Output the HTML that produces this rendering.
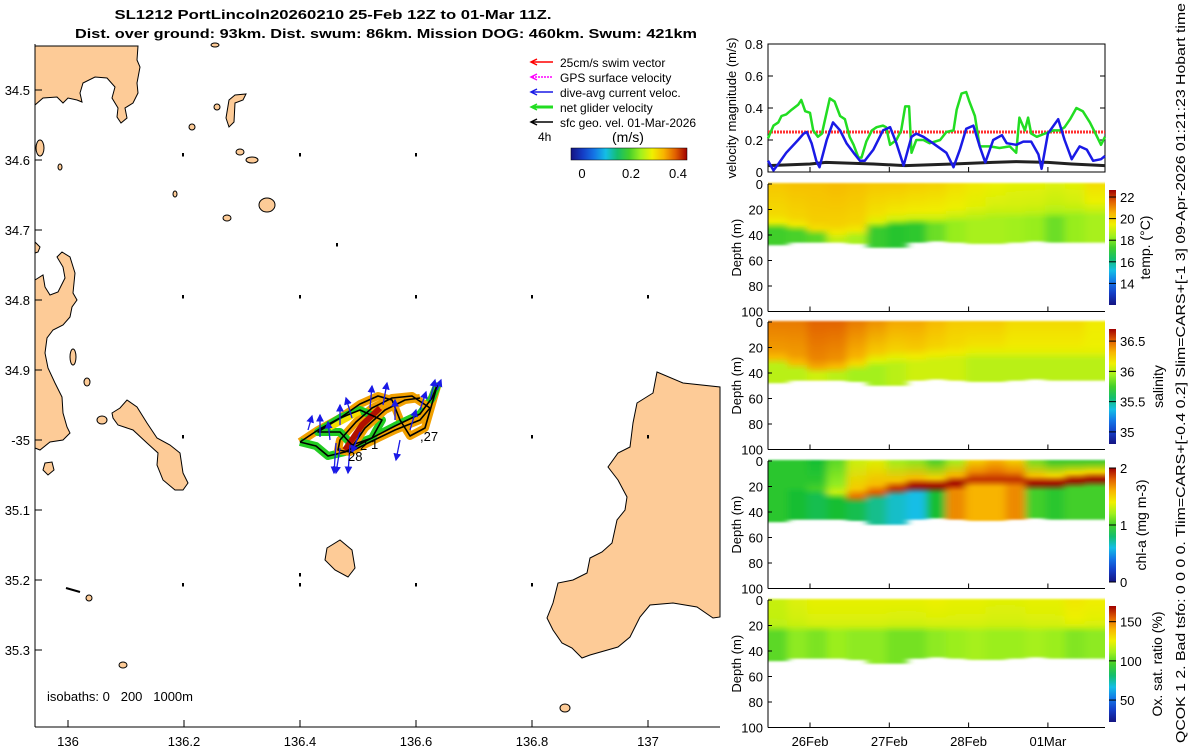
<!DOCTYPE html>
<html><head><meta charset="utf-8">
<style>
html,body{margin:0;padding:0;background:#fff;}
svg{display:block;font-family:"Liberation Sans",sans-serif;}
</style></head>
<body>
<svg id="fig" width="1200" height="750" viewBox="0 0 1200 750" xmlns="http://www.w3.org/2000/svg">
<text x="333" y="19" text-anchor="middle" font-size="13" font-weight="bold" textLength="437" lengthAdjust="spacingAndGlyphs">SL1212 PortLincoln20260210 25-Feb 12Z to 01-Mar 11Z.</text>
<text x="386" y="38" text-anchor="middle" font-size="13" font-weight="bold" textLength="622" lengthAdjust="spacingAndGlyphs">Dist. over ground: 93km. Dist. swum: 86km. Mission DOG: 460km. Swum: 421km</text>
<g id="map"></g>
<g id="vel"></g>
<g id="sections"></g>
<text transform="translate(1185,373) rotate(-90)" text-anchor="middle" font-size="13" textLength="740" lengthAdjust="spacingAndGlyphs">QCOK 1  2. Bad tsfo: 0  0  0  0. Tlim=CARS+[-0.4 0.2] Slim=CARS+[-1 3] 09-Apr-2026 01:21:23 Hobart time</text>
</svg>
<script>
// ---------- velocity data (time in days since 25-Feb 00:00) ----------
const greenT=[0.47,0.54,0.60,0.64,0.70,0.77,0.85,0.89,0.94,1.00,1.04,1.10,1.15,1.25,1.31,1.38,1.44,1.50,1.55,1.61,1.65,1.71,1.78,1.84,1.92,1.96,2.01,2.09,2.15,2.20,2.25,2.28,2.34,2.43,2.51,2.64,2.72,2.81,2.85,2.91,2.97,3.01,3.08,3.14,3.27,3.39,3.52,3.60,3.64,3.71,3.75,3.79,3.86,3.96,4.07,4.15,4.21,4.28,4.36,4.44,4.53,4.61,4.67,4.72];
const greenV=[0.21,0.29,0.31,0.35,0.36,0.39,0.42,0.45,0.38,0.37,0.26,0.22,0.24,0.46,0.44,0.35,0.33,0.22,0.17,0.09,0.09,0.19,0.26,0.28,0.29,0.28,0.17,0.20,0.26,0.41,0.41,0.12,0.20,0.20,0.18,0.20,0.25,0.26,0.39,0.49,0.50,0.44,0.35,0.16,0.16,0.15,0.16,0.12,0.34,0.26,0.34,0.24,0.22,0.24,0.26,0.26,0.28,0.33,0.40,0.38,0.31,0.23,0.17,0.22];
const blueT=[0.47,0.54,0.60,0.70,0.85,0.92,0.96,1.02,1.08,1.12,1.21,1.29,1.38,1.46,1.55,1.63,1.69,1.80,1.92,2.01,2.09,2.18,2.28,2.34,2.43,2.55,2.72,2.81,2.89,2.97,3.06,3.14,3.21,3.31,3.42,3.48,3.60,3.69,3.79,3.88,3.92,4.00,4.13,4.21,4.30,4.40,4.49,4.57,4.67,4.72];
const blueV=[0.07,0.01,0.05,0.12,0.20,0.24,0.25,0.18,0.07,0.03,0.20,0.31,0.26,0.18,0.12,0.07,0.07,0.14,0.26,0.28,0.18,0.04,0.22,0.24,0.22,0.18,0.12,0.03,0.14,0.27,0.29,0.16,0.06,0.20,0.23,0.18,0.17,0.19,0.19,0.11,0.02,0.24,0.33,0.20,0.08,0.16,0.14,0.07,0.08,0.10];
const blackT=[0.47,1.0,1.2,1.8,2.2,2.8,3.3,3.6,4.0,4.3,4.72];
const blackV=[0.04,0.05,0.06,0.05,0.04,0.05,0.06,0.065,0.06,0.05,0.04];
const swimSpeed=0.25;
const velTicks=[0,0.2,0.4,0.6,0.8];
const dateTicks=[1,2,3,4];
const dateLabels=["26Feb","27Feb","28Feb","01Mar"];
// ---------- section data (17 bins of 0.25 day from t=0.47) ----------
const binStart=0.47, binWidth=0.25;
const bottomDepth=[48,46,46,46,47,50,50,46,45,46,47,47,46,45,46,46,46];
const tempSurf=[20.2,20.3,20.3,20.4,20.3,20.2,20.2,20.1,20.0,19.8,19.6,19.4,19.3,19.3,19.2,19.3,19.8];
const tempMld=[30,32,35,38,36,30,28,27,27,25,24,22,22,22,22,20,20];
const tempMid=[19.5,19.6,19.8,19.6,19.6,19.2,19.0,19.0,19.0,19.0,18.9,18.9,18.9,18.8,18.6,18.8,19.0];
const tempDeep=[17.3,17.4,17.6,18.8,18.5,17.2,17.0,17.1,17.8,18.3,18.5,18.5,18.4,18.3,17.8,18.3,18.5];
const salSurf=[36.45,36.45,36.5,36.5,36.45,36.4,36.35,36.35,36.3,36.25,36.25,36.25,36.2,36.2,36.2,36.2,36.15];
const salMld=[28,32,35,35,33,30,28,27,25,24,24,24,24,24,24,24,24];
const salMid=[36.3,36.3,36.35,36.3,36.2,36.1,36.1,36.15,36.15,36.15,36.1,36.1,36.1,36.1,36.1,36.1,36.1];
const salDeep=[36.0,36.0,36.05,36.0,35.95,35.95,36.0,36.05,36.05,36.05,36.0,36.0,36.0,36.0,36.0,36.0,36.0];
const chlSurf=[0.95,0.95,0.9,1.05,1.3,1.35,1.2,1.15,1.0,1.2,1.5,1.6,1.5,1.1,0.95,0.95,0.95];
const chlMld=[20,20,22,25,28,25,22,20,20,18,15,15,15,18,18,16,15];
const chlMid=[0.95,0.95,1.0,1.3,1.75,1.8,1.9,2.0,2.0,2.0,1.9,1.9,1.9,2.0,2.0,2.0,2.0];
const chlDeep=[0.95,0.9,0.85,0.9,0.85,0.75,0.65,0.6,0.9,1.7,1.6,1.6,1.7,1.0,0.95,1.0,1.0];
const oxySurf=[118,122,124,124,124,124,124,124,125,124,124,123,123,124,124,128,126];
const oxyMld=[20,20,20,20,20,20,20,20,20,20,20,20,20,20,20,20,20];
const oxyMid=[116,118,120,120,120,120,119,119,120,120,120,119,119,120,120,122,121];
const oxyDeep=[100,108,105,110,108,108,104,104,108,110,112,110,110,112,110,106,108];
const depthTicks=[0,20,40,60,80,100];

const NS="http://www.w3.org/2000/svg";
function mk(tag,attrs,parent){const e=document.createElementNS(NS,tag);for(const k in attrs)e.setAttribute(k,attrs[k]);if(parent)parent.appendChild(e);return e;}
function txt(parent,x,y,s,attrs){const e=mk('text',Object.assign({x:x,y:y,'font-size':13},attrs||{}),parent);e.textContent=s;return e;}
const stops=[[0,[20,20,130]],[0.15,[20,80,230]],[0.3,[20,190,230]],[0.45,[20,190,50]],[0.6,[160,240,30]],[0.7,[240,240,0]],[0.8,[248,180,0]],[0.9,[225,95,0]],[1,[160,0,0]]];
function cmap(f){f=Math.max(0,Math.min(1,f));for(let i=1;i<stops.length;i++){if(f<=stops[i][0]){const a=stops[i-1],b=stops[i];const u=(f-a[0])/(b[0]-a[0]);const c=a[1].map((v,j)=>Math.round(v+(b[1][j]-v)*u));return `rgb(${c[0]},${c[1]},${c[2]})`;}}return 'rgb(160,0,0)';}
const defs=mk('defs',{},document.getElementById('fig'));
const blur=mk('filter',{id:'hblur',x:'-2%',y:'-2%',width:'104%',height:'104%'},defs);
mk('feGaussianBlur',{stdDeviation:'4 1'},blur);

// ---------------- MAP ----------------
const map=document.getElementById('map');
const lonX=lon=>68+(lon-136)*580;
const latY=lat=>90+(lat-34.5)*700;
mk('rect',{x:35,y:44,width:685,height:683,fill:'#fff'},map);
const land=[
"35,46 138,46 137,60 140,67 137,83 138,93 133,103 125,108 127,118 121,123 117,117 118,108 112,98 115,87 107,78 95,77 83,83 80,93 82,102 77,100 68,98 63,103 57,97 43,98 35,105",
"35,242 40,247 38,252 35,253",
"35,280 43,275 45,287 50,295 58,292 65,278 63,267 57,257 62,252 70,257 75,273 73,293 77,300 72,307 70,317 63,325 53,330 47,338 45,353 48,368 55,383 62,397 63,413 67,427 70,433 63,440 50,442 40,450 35,448",
"112,413 120,408 127,400 137,407 147,423 157,438 170,445 180,453 183,473 188,483 183,490 175,490 163,480 157,465 158,453 147,443 133,430 118,425 113,418",
"235,95 246,94 243,100 235,103 234,122 229,127 226,118 229,100",
"657,372 683,383 720,387 720,617 713,618 697,607 673,603 650,605 640,617 630,637 618,647 590,655 582,658 572,648 562,643 553,630 547,618 553,603 558,583 573,580 587,573 590,558 602,552 612,543 617,520 625,510 627,497 618,480 608,467 618,453 630,447 633,423 637,403 653,393",
"327,548 340,540 352,550 355,568 348,577 335,570 325,560",
"45,463 52,462 54,470 48,475 43,470"
];
land.forEach((p,i)=>{const e=mk('polygon',{points:p,fill:'#fdcb97',stroke:'#000','stroke-width':1},map);

});
const isl=[[267,205,8,7],[252,160,6,3],[227,218,4,3],[73,357,3,8],[87,382,3,4],[102,420,5,4],[40,148,4,8],[217,107,3,3],[192,127,3,3],[240,152,4,3],[175,194,2,3],[123,665,4,3],[89,598,3,3],[565,708,5,4],[60,167,2,3],[215,45,4,2]];
isl.forEach(c=>{const e=mk('ellipse',{cx:c[0],cy:c[1],rx:c[2],ry:c[3],fill:'#fdcb97',stroke:'#000','stroke-width':1},map);

});
// geostrophic velocity dots
[[183,155],[300,155],[416,155],[183,297],[300,297],[416,297],[532,297],[648,297],[183,437],[532,437],[648,437],[183,585],[300,585],[416,585],[532,585],[337,245],[300,575]].forEach(d=>{const e=mk('path',{d:`M${d[0]},${d[1]+1.5} L${d[0]},${d[1]-2}`,stroke:'#000','stroke-width':2},map);

});
mk('path',{d:'M66,588 L80,592',stroke:'#000','stroke-width':2},map);
// glider track
const tracks=[
"M300,442 L318,430 L340,418 L360,404 L378,396 L392,400 L400,420 L410,436 L425,428 L438,383",
"M300,442 L316,446 L328,456 L345,452 L368,440 L395,426 L420,414 L432,398 L438,383",
"M340,440 L356,422 L372,408 L392,398 L412,396 L430,408 L420,420 L395,430 L370,442 L350,452 L338,450 Z",
"M318,432 L340,432 L352,445 L372,438 L382,420 L360,410 L340,418 Z",
"M350,450 L365,428 L385,410 L405,400 L420,398"
];
tracks.forEach((d,i)=>{
const g=mk('path',{d:d,fill:'none',stroke:i%2?'#22cc22':'#f0a000','stroke-width':8,'stroke-linejoin':'round'},map);

});
mk('path',{d:"M345,450 L362,425 L380,408",fill:'none',stroke:'#b01000','stroke-width':6},map);
mk('path',{d:"M330,428 L345,420 L360,412",fill:'none',stroke:'#f5e000','stroke-width':5},map);
tracks.forEach((d,i)=>{
const g=mk('path',{d:d,fill:'none',stroke:'#000','stroke-width':1.6,'stroke-linejoin':'round'},map);

});
// dive-avg current arrows
const arrows=[[320,437,0,-22],[340,425,0,-20],[352,418,-6,-20],[370,408,2,-22],[383,405,4,-22],[410,430,6,-20],[420,410,6,-18],[430,400,5,-20],[437,390,4,-10],[350,445,-2,28],[340,448,-4,25],[336,443,-2,30],[400,440,-4,20],[330,440,-2,-18],[308,430,4,-14],[395,420,0,-20],[360,432,-8,20]];
mk('marker',{id:'ah',markerWidth:6,markerHeight:6,refX:5,refY:3,orient:'auto'},defs).appendChild(mk('path',{d:'M0,0 L6,3 L0,6 Z',fill:'#1a1ae6'}));
arrows.forEach(a=>{const e=mk('line',{x1:a[0],y1:a[1],x2:a[0]+a[2],y2:a[1]+a[3],stroke:'#1a1ae6','stroke-width':1.3,'marker-end':'url(#ah)'},map);

});
txt(map,420,441,",27",{'font-size':13});
txt(map,348,461,"28",{'font-size':13});
txt(map,371,449,"1",{'font-size':13});
txt(map,360,450,"2",{'font-size':13});
// frame and axes
mk('line',{x1:35,y1:44,x2:35,y2:727,stroke:'#000','stroke-width':1},map);
mk('line',{x1:35,y1:727,x2:720,y2:727,stroke:'#000','stroke-width':1},map);
const lonTicks=[136,136.2,136.4,136.6,136.8,137];
const lonLabels=["136","136.2","136.4","136.6","136.8","137"];
lonTicks.forEach((l,i)=>{const x=lonX(l);mk('line',{x1:x,y1:727,x2:x,y2:720,stroke:'#000'},map);
const t=txt(map,x,746,lonLabels[i],{'text-anchor':'middle'});

});
const latTicks=[34.5,34.6,34.7,34.8,34.9,35,35.1,35.2,35.3];
const latLabels=["34.5","34.6","34.7","34.8","34.9","-35","35.1","35.2","35.3"];
latTicks.forEach((l,i)=>{const y=latY(l);mk('line',{x1:35,y1:y,x2:42,y2:y,stroke:'#000'},map);
const t=txt(map,30,y+5,latLabels[i],{'text-anchor':'end'});

});
const iso=txt(map,47,701,"isobaths: 0\u00a0\u00a0\u00a0200\u00a0\u00a0\u00a01000m");


// legend
const leg=[["#ff0000","25cm/s swim vector"],["#ff00ff","GPS surface velocity"],["#1a1ae6","dive-avg current veloc."],["#22dd22","net glider velocity"],["#000000","sfc geo. vel. 01-Mar-2026"]];
leg.forEach((l,i)=>{const y=62+i*15;const g=mk('g',{},map);


mk('line',{x1:532,y1:y,x2:553,y2:y,stroke:l[0],'stroke-width':i==3?3:1.5,'stroke-dasharray':i==1?'2,1':''},g);
mk('path',{d:`M537,${y-3} L531,${y} L537,${y+3}`,fill:'none',stroke:l[0],'stroke-width':1.5},g);
txt(g,560,y+5,l[1],{'font-size':12});});
txt(map,538,141,"4h",{'font-size':12});
txt(map,612,142,"(m/s)",{'font-size':14});
const mg=mk('linearGradient',{id:'mcb',x1:0,x2:1,y1:0,y2:0},defs);
for(let i=0;i<=10;i++)mk('stop',{offset:i/10,'stop-color':cmap(i/10)},mg);
const mcb=mk('rect',{x:571,y:148,width:116,height:12,fill:'url(#mcb)',stroke:'#000','stroke-width':0.5},map);


[["0",582],["0.2",631],["0.4",678]].forEach(t=>txt(map,t[1],178,t[0],{'text-anchor':'middle'}));

// ---------------- VELOCITY PANEL ----------------
const vel=document.getElementById('vel');
const VX0=768,VX1=1105;
const tX=t=>810+(t-1)*79.3;
const vY=v=>172-v*160;
mk('rect',{x:VX0,y:44,width:VX1-VX0,height:128,fill:'#fff',stroke:'#000','stroke-width':1},vel);
velTicks.forEach(v=>{const y=vY(v);mk('line',{x1:VX0,y1:y,x2:VX0+5,y2:y,stroke:'#000'},vel);mk('line',{x1:VX1,y1:y,x2:VX1-5,y2:y,stroke:'#000'},vel);
const t=txt(vel,763,y+5,String(v),{'text-anchor':'end'});

});
dateTicks.forEach(d=>{mk('line',{x1:tX(d),y1:172,x2:tX(d),y2:167,stroke:'#000'},vel);});
const vl=mk('text',{transform:'translate(736,108) rotate(-90)','text-anchor':'middle','font-size':13},vel);vl.textContent='velocity magnitude (m/s)';


function line(T,V,color,w,name,dash){const d=T.map((t,i)=>(i?'L':'M')+tX(t).toFixed(1)+','+vY(V[i]).toFixed(1)).join(' ');
const e=mk('path',{d:d,fill:'none',stroke:color,'stroke-width':w,'stroke-linejoin':'round','stroke-dasharray':dash||''},vel);

}
line([0.47,4.72],[swimSpeed,swimSpeed],'#ff3030',3,'swim-speed-line','2,1');
line(blackT,blackV,'#222',3,'geostrophic-speed-line');
line(greenT,greenV,'#22dd22',2.5,'net-glider-velocity-line');
line(blueT,blueV,'#1a1ae6',2.5,'dive-avg-current-line');

// ---------------- SECTIONS ----------------
const sec=document.getElementById('sections');
const panels=[
{name:'temperature',y0:184,surf:tempSurf,mld:tempMld,mid:tempMid,deep:tempDeep,vmin:12.0,vmax:22.65,cb:[190,305],ticks:[22,20,18,16,14],label:'temp. (°C)',lx:1150},
{name:'salinity',y0:322,surf:salSurf,mld:salMld,mid:salMid,deep:salDeep,vmin:34.8,vmax:36.7,cb:[329,444],ticks:[36.5,36,35.5,35],label:'salinity',lx:1163},
{name:'chlorophyll',y0:461,surf:chlSurf,mld:chlMld,mid:chlMid,deep:chlDeep,vmin:0,vmax:2,cb:[468,582],ticks:[2,1,0],label:'chl-a (mg m-3)',lx:1146},
{name:'oxygen',y0:600,surf:oxySurf,mld:oxyMld,mid:oxyMid,deep:oxyDeep,vmin:22,vmax:170,cb:[606,722],ticks:[150,100,50],label:'Ox. sat. ratio (%)',lx:1162}
];
panels.forEach((p,pi)=>{
const g=mk('g',{},sec);


const dY=d=>p.y0+d*1.275;
const norm=v=>(v-p.vmin)/(p.vmax-p.vmin);
const cp=mk('clipPath',{id:'clip'+pi},defs);
mk('rect',{x:VX0,y:p.y0-3,width:VX1-VX0,height:140},cp);
const field=mk('g',{'clip-path':`url(#clip${pi})`},g);
const inner=mk('g',{filter:'url(#hblur)'},field);
for(let i=0;i<bottomDepth.length;i++){
const x0=tX(binStart+i*binWidth),x1=tX(binStart+(i+1)*binWidth);
const gid='g'+pi+'_'+i;const bd=bottomDepth[i];
const lg=mk('linearGradient',{id:gid,x1:0,x2:0,y1:0,y2:1},defs);
mk('stop',{offset:0,'stop-color':cmap(norm(p.surf[i]))},lg);
mk('stop',{offset:Math.max(0,(p.mld[i]-6)/bd),'stop-color':cmap(norm((p.surf[i]+p.mid[i])/2))},lg);
mk('stop',{offset:p.mld[i]/bd,'stop-color':cmap(norm(p.mid[i]))},lg);
mk('stop',{offset:Math.min(1,(p.mld[i]+6)/bd),'stop-color':cmap(norm(p.deep[i]))},lg);
mk('stop',{offset:1,'stop-color':cmap(norm(p.deep[i]))},lg);
const xa=i==0?x0-10:x0-0.5, xb=i==bottomDepth.length-1?x1+10:x1+1;
const r=mk('rect',{x:xa,y:dY(0)-1,width:xb-xa,height:dY(bd)-dY(0)+1,fill:`url(#${gid})`},inner);


}
mk('line',{x1:VX0,y1:p.y0,x2:VX0,y2:dY(100),stroke:'#000'},g);
mk('line',{x1:VX0,y1:dY(100),x2:VX1,y2:dY(100),stroke:'#000'},g);
depthTicks.forEach(d=>{const y=dY(d);mk('line',{x1:VX0,y1:y,x2:VX0+4,y2:y,stroke:'#000'},g);
const t=txt(g,763,y+5,String(d),{'text-anchor':'end'});

});
dateTicks.forEach(d=>mk('line',{x1:tX(d),y1:dY(100),x2:tX(d),y2:dY(100)-5,stroke:'#000'},g));
const yl=mk('text',{transform:`translate(741,${dY(50)}) rotate(-90)`,'text-anchor':'middle','font-size':13},g);yl.textContent='Depth (m)';


const cg=mk('linearGradient',{id:'cb'+pi,x1:0,x2:0,y1:1,y2:0},defs);
for(let k=0;k<=10;k++)mk('stop',{offset:k/10,'stop-color':cmap(k/10)},cg);
const cb=mk('rect',{x:1109,y:p.cb[0],width:7,height:p.cb[1]-p.cb[0],fill:`url(#cb${pi})`},g);


const cY=v=>p.cb[1]-(v-p.vmin)/(p.vmax-p.vmin)*(p.cb[1]-p.cb[0]);
p.ticks.forEach(v=>{const y=cY(v);mk('line',{x1:1109,y1:y,x2:1116,y2:y,stroke:'#000'},g);txt(g,1120,y+5,String(v));});
const cl=mk('text',{transform:`translate(${p.lx},${(p.cb[0]+p.cb[1])/2}) rotate(-90)`,'text-anchor':'middle','font-size':14},g);cl.textContent=p.label;


});
dateTicks.forEach((d,i)=>{const t=txt(sec,tX(d),746,dateLabels[i],{'text-anchor':'middle'});

});
</script>
</body></html>
